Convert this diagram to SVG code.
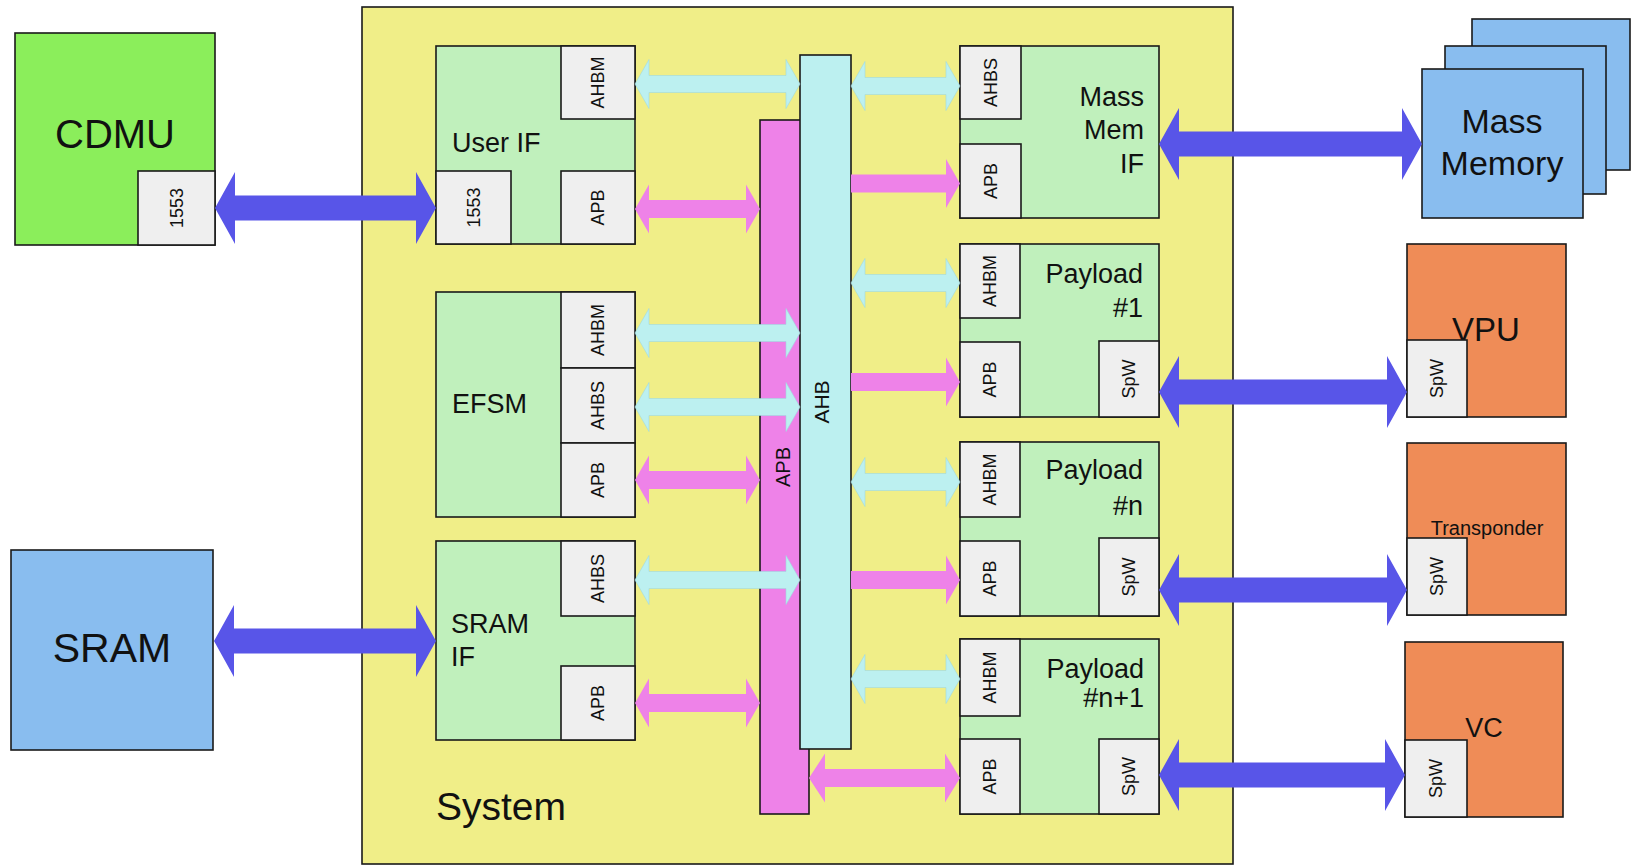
<svg xmlns="http://www.w3.org/2000/svg" width="1634" height="866" viewBox="0 0 1634 866">
<style>
text{font-family:"Liberation Sans",Arial,sans-serif;fill:#111}
.bx{stroke:#1a1a1a;stroke-width:1.6}
.sys{fill:#f0ee88}
.grn{fill:#c0f0bc}
.sub{fill:#efefef}
.cd{fill:#8bee5b}
.blu{fill:#89bdef}
.org{fill:#ef8c57}
.apb{fill:#ee82e8}
.ahb{fill:#bcf0f0}
.sl{font-size:18px;text-anchor:middle}
.ml{font-size:27px}
.big{font-size:40px}
.ab{fill:#5855e8}
.ac{fill:#bcf0f0;stroke:#9fd8e0;stroke-width:0.6}
.am{fill:#ee82e8}
</style>
<rect width="1634" height="866" fill="#fff"/>
<g id="system">
<rect class="bx sys" x="362" y="7" width="871" height="857"/>
<text class="big" x="436" y="820" style="font-size:39px">System</text>
</g>
<g id="cdmu">
<rect class="bx cd" x="15" y="33" width="200" height="212"/>
<text class="big" x="115" y="148" text-anchor="middle">CDMU</text>
<rect class="bx sub" x="138" y="171" width="77" height="74"/>
<text class="sl" transform="translate(176.5,208) rotate(-90)" dy="0.35em">1553</text>
</g>
<g id="sram">
<rect class="bx blu" x="11" y="550" width="202" height="200"/>
<text class="big" x="112" y="662" text-anchor="middle" style="font-size:41px">SRAM</text>
</g>
<g id="user-if">
<rect class="bx grn" x="436" y="46" width="199" height="198"/>
<rect class="bx sub" x="561" y="46" width="74" height="73"/>
<rect class="bx sub" x="436" y="171" width="75" height="73"/>
<rect class="bx sub" x="561" y="171" width="74" height="73"/>
<text class="ml" x="452" y="152">User IF</text>
<text class="sl" transform="translate(598,82.5) rotate(-90)" dy="0.35em">AHBM</text>
<text class="sl" transform="translate(473.5,207.5) rotate(-90)" dy="0.35em">1553</text>
<text class="sl" transform="translate(598,207.5) rotate(-90)" dy="0.35em">APB</text>
</g>
<g id="efsm">
<rect class="bx grn" x="436" y="292" width="199" height="225"/>
<rect class="bx sub" x="561" y="292" width="74" height="76"/>
<rect class="bx sub" x="561" y="368" width="74" height="75"/>
<rect class="bx sub" x="561" y="443" width="74" height="74"/>
<text class="ml" x="452" y="413">EFSM</text>
<text class="sl" transform="translate(598,330) rotate(-90)" dy="0.35em">AHBM</text>
<text class="sl" transform="translate(598,405.5) rotate(-90)" dy="0.35em">AHBS</text>
<text class="sl" transform="translate(598,480) rotate(-90)" dy="0.35em">APB</text>
</g>
<g id="sram-if">
<rect class="bx grn" x="436" y="541" width="199" height="199"/>
<rect class="bx sub" x="561" y="541" width="74" height="75"/>
<rect class="bx sub" x="561" y="666" width="74" height="74"/>
<text class="ml" x="451" y="633">SRAM</text>
<text class="ml" x="451" y="666">IF</text>
<text class="sl" transform="translate(598,578.5) rotate(-90)" dy="0.35em">AHBS</text>
<text class="sl" transform="translate(598,703) rotate(-90)" dy="0.35em">APB</text>
</g>
<g id="apb-bus">
<rect class="bx apb" x="760" y="120" width="49" height="694"/>
<text transform="translate(783,467) rotate(-90)" dy="0.35em" text-anchor="middle" style="font-size:20px">APB</text>
</g>
<g id="ahb-bus">
<rect class="bx ahb" x="800" y="55" width="51" height="694"/>
<text transform="translate(822,402) rotate(-90)" dy="0.35em" text-anchor="middle" style="font-size:21px">AHB</text>
</g>
<g id="mass-mem-if">
<rect class="bx grn" x="960" y="46" width="199" height="172"/>
<rect class="bx sub" x="960" y="46" width="61" height="73"/>
<rect class="bx sub" x="960" y="144" width="61" height="74"/>
<text class="ml" x="1144" y="106" text-anchor="end">Mass</text>
<text class="ml" x="1144" y="139" text-anchor="end">Mem</text>
<text class="ml" x="1144" y="173" text-anchor="end">IF</text>
<text class="sl" transform="translate(990.5,82.5) rotate(-90)" dy="0.35em">AHBS</text>
<text class="sl" transform="translate(990.5,181) rotate(-90)" dy="0.35em">APB</text>
</g>
<g id="payload-1">
<rect class="bx grn" x="960" y="244" width="199" height="173"/>
<rect class="bx sub" x="960" y="244" width="60" height="74"/>
<rect class="bx sub" x="960" y="342" width="60" height="75"/>
<rect class="bx sub" x="1099" y="341" width="60" height="76"/>
<text class="ml" x="1143" y="283" text-anchor="end">Payload</text>
<text class="ml" x="1143" y="317" text-anchor="end">#1</text>
<text class="sl" transform="translate(990,281) rotate(-90)" dy="0.35em">AHBM</text>
<text class="sl" transform="translate(990,379.5) rotate(-90)" dy="0.35em">APB</text>
<text class="sl" transform="translate(1129,379) rotate(-90)" dy="0.35em">SpW</text>
</g>
<g id="payload-n">
<rect class="bx grn" x="960" y="442" width="199" height="174"/>
<rect class="bx sub" x="960" y="442" width="60" height="75"/>
<rect class="bx sub" x="960" y="541" width="60" height="75"/>
<rect class="bx sub" x="1099" y="538" width="60" height="78"/>
<text class="ml" x="1143" y="479" text-anchor="end">Payload</text>
<text class="ml" x="1143" y="515" text-anchor="end">#n</text>
<text class="sl" transform="translate(990,479.5) rotate(-90)" dy="0.35em">AHBM</text>
<text class="sl" transform="translate(990,578.5) rotate(-90)" dy="0.35em">APB</text>
<text class="sl" transform="translate(1129,577) rotate(-90)" dy="0.35em">SpW</text>
</g>
<g id="payload-n1">
<rect class="bx grn" x="960" y="639" width="199" height="175"/>
<rect class="bx sub" x="960" y="639" width="60" height="77"/>
<rect class="bx sub" x="960" y="739" width="60" height="75"/>
<rect class="bx sub" x="1099" y="739" width="60" height="75"/>
<text class="ml" x="1144" y="678" text-anchor="end">Payload</text>
<text class="ml" x="1144" y="707" text-anchor="end">#n+1</text>
<text class="sl" transform="translate(990,677.5) rotate(-90)" dy="0.35em">AHBM</text>
<text class="sl" transform="translate(990,776.5) rotate(-90)" dy="0.35em">APB</text>
<text class="sl" transform="translate(1129,776.5) rotate(-90)" dy="0.35em">SpW</text>
</g>
<g id="mass-memory">
<rect class="bx blu" x="1472" y="19" width="158" height="151"/>
<rect class="bx blu" x="1445" y="46" width="161" height="148"/>
<rect class="bx blu" x="1422" y="69" width="161" height="149"/>
<text x="1502" y="133" text-anchor="middle" style="font-size:34px">Mass</text>
<text x="1502" y="175" text-anchor="middle" style="font-size:34px">Memory</text>
</g>
<g id="vpu">
<rect class="bx org" x="1407" y="244" width="159" height="173"/>
<text x="1486" y="341" text-anchor="middle" style="font-size:33px">VPU</text>
<rect class="bx sub" x="1407" y="340" width="60" height="77"/>
<text class="sl" transform="translate(1437,378.5) rotate(-90)" dy="0.35em">SpW</text>
</g>
<g id="transponder">
<rect class="bx org" x="1407" y="443" width="159" height="172"/>
<text x="1487" y="535" text-anchor="middle" style="font-size:20px">Transponder</text>
<rect class="bx sub" x="1407" y="538" width="60" height="77"/>
<text class="sl" transform="translate(1437,576.5) rotate(-90)" dy="0.35em">SpW</text>
</g>
<g id="vc">
<rect class="bx org" x="1405" y="642" width="158" height="175"/>
<text x="1484" y="737" text-anchor="middle" style="font-size:27px">VC</text>
<rect class="bx sub" x="1405" y="740" width="62" height="77"/>
<text class="sl" transform="translate(1436,778.5) rotate(-90)" dy="0.35em">SpW</text>
</g>
<g id="connectors">
<path class="ab" d="M215,208 L235,172 L235,195.5 L416,195.5 L416,172 L436,208 L416,244 L416,220.5 L235,220.5 L235,244 Z"/>
<path class="ab" d="M214,641 L234,605 L234,628.5 L416,628.5 L416,605 L436,641 L416,677 L416,653.5 L234,653.5 L234,677 Z"/>
<path class="ab" d="M1159,144 L1179,108 L1179,131.5 L1402,131.5 L1402,108 L1422,144 L1402,180 L1402,156.5 L1179,156.5 L1179,180 Z"/>
<path class="ab" d="M1159,392 L1179,356 L1179,379.5 L1387,379.5 L1387,356 L1407,392 L1387,428 L1387,404.5 L1179,404.5 L1179,428 Z"/>
<path class="ab" d="M1159,590 L1179,554 L1179,577.5 L1387,577.5 L1387,554 L1407,590 L1387,626 L1387,602.5 L1179,602.5 L1179,626 Z"/>
<path class="ab" d="M1159,775 L1179,739 L1179,762.5 L1385,762.5 L1385,739 L1405,775 L1385,811 L1385,787.5 L1179,787.5 L1179,811 Z"/>
<path class="ac" d="M635,84 L649,59.5 L649,75.5 L786,75.5 L786,59.5 L800,84 L786,108.5 L786,92.5 L649,92.5 L649,108.5 Z"/>
<path class="ac" d="M851,86 L865,61.5 L865,77.5 L946,77.5 L946,61.5 L960,86 L946,110.5 L946,94.5 L865,94.5 L865,110.5 Z"/>
<path class="ac" d="M635,333 L649,308.5 L649,324.5 L786,324.5 L786,308.5 L800,333 L786,357.5 L786,341.5 L649,341.5 L649,357.5 Z"/>
<path class="ac" d="M635,407 L649,382.5 L649,398.5 L786,398.5 L786,382.5 L800,407 L786,431.5 L786,415.5 L649,415.5 L649,431.5 Z"/>
<path class="ac" d="M635,580 L649,555.5 L649,571.5 L786,571.5 L786,555.5 L800,580 L786,604.5 L786,588.5 L649,588.5 L649,604.5 Z"/>
<path class="ac" d="M851,283 L865,258.5 L865,274.5 L946,274.5 L946,258.5 L960,283 L946,307.5 L946,291.5 L865,291.5 L865,307.5 Z"/>
<path class="ac" d="M851,482 L865,457.5 L865,473.5 L946,473.5 L946,457.5 L960,482 L946,506.5 L946,490.5 L865,490.5 L865,506.5 Z"/>
<path class="ac" d="M851,679 L865,654.5 L865,670.5 L946,670.5 L946,654.5 L960,679 L946,703.5 L946,687.5 L865,687.5 L865,703.5 Z"/>
<path class="am" d="M635,209 L649,184.5 L649,200 L746,200 L746,184.5 L760,209 L746,233.5 L746,218 L649,218 L649,233.5 Z"/>
<path class="am" d="M635,480 L649,455.5 L649,471 L746,471 L746,455.5 L760,480 L746,504.5 L746,489 L649,489 L649,504.5 Z"/>
<path class="am" d="M635,703 L649,678.5 L649,694 L746,694 L746,678.5 L760,703 L746,727.5 L746,712 L649,712 L649,727.5 Z"/>
<path class="am" d="M809,778 L825,753.5 L825,769 L945,769 L945,753.5 L960,778 L945,802.5 L945,787 L825,787 L825,802.5 Z"/>
<path class="am" d="M851,174.5 L946,174.5 L946,159 L960,183.5 L946,208 L946,192.5 L851,192.5 Z"/>
<path class="am" d="M851,373 L946,373 L946,357.5 L960,382 L946,406.5 L946,391 L851,391 Z"/>
<path class="am" d="M851,571 L946,571 L946,555.5 L960,580 L946,604.5 L946,589 L851,589 Z"/>
</g>
</svg>
